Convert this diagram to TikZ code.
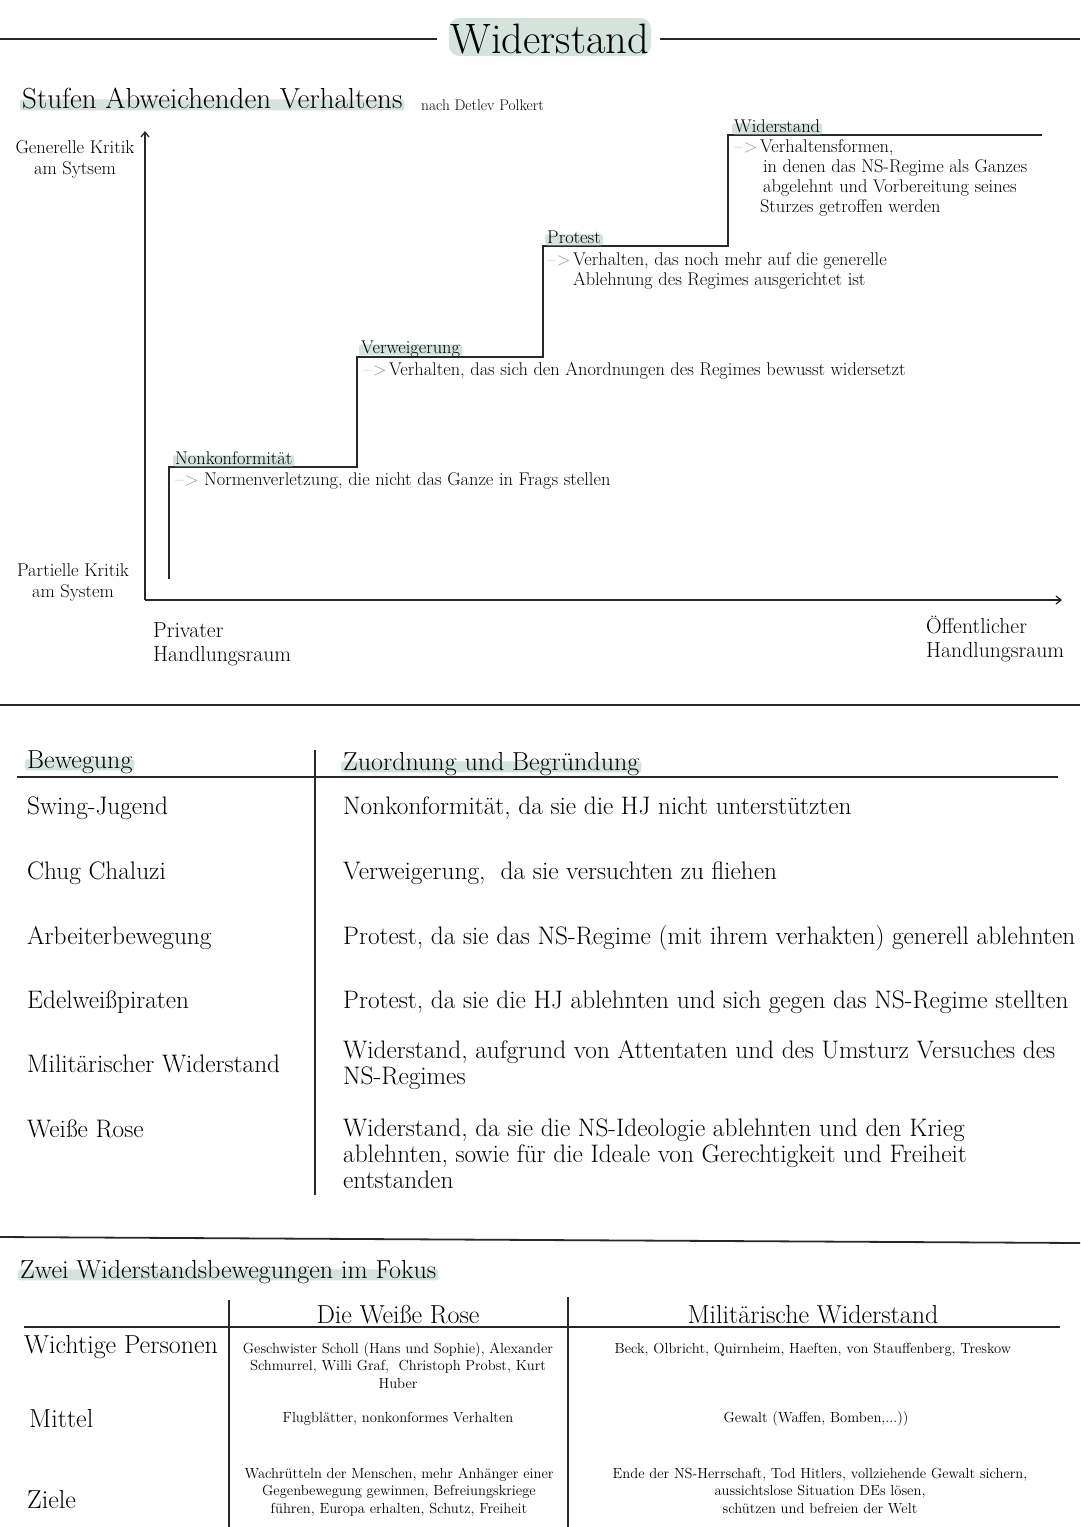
\documentclass[tikz,border=0pt]{standalone}
\usepackage{tikz}
\usepackage{xcolor}
\usetikzlibrary{arrows.meta,positioning,calc}
\definecolor{HighlightGreen}{RGB}{213,227,221}
\definecolor{LineGray}{RGB}{40,40,40}
\definecolor{ArrowGray}{RGB}{150,150,150}
\newcommand{\stepmark}{\textcolor{ArrowGray}{--\kern1pt>}}
\newcommand{\fTitle}{\fontsize{42.5}{46}\selectfont}
\newcommand{\fHead}{\fontsize{29}{32}\selectfont}
\newcommand{\fNote}{\fontsize{15.4}{18}\selectfont}
\newcommand{\fAxis}{\fontsize{18.5}{21}\selectfont}
\newcommand{\fSpace}{\fontsize{21.7}{24}\selectfont}
\newcommand{\fStep}{\fontsize{18.4}{20.1}\selectfont}
\newcommand{\fTab}{\fontsize{25.3}{25.8}\selectfont}
\newcommand{\fTabHead}{\fontsize{26}{28}\selectfont}
\newcommand{\fCell}{\fontsize{14.6}{17.4}\selectfont}

\begin{document}
\begin{tikzpicture}[x=1pt,y=-1pt,
    txt/.style={anchor=base west, inner sep=0pt},
    hilite/.style={anchor=base west, fill=HighlightGreen, inner xsep=2pt, inner ysep=1.5pt,
      text height=0.72em, text depth=0.08em, rounded corners=2pt},
    titlebox/.style={anchor=base, fill=HighlightGreen, inner xsep=2pt, inner ysep=3pt,
      text height=32pt, text depth=0pt, rounded corners=11pt, font=\fTitle},
    sepline/.style={LineGray, line width=1.8pt},
    axis/.style={LineGray, line width=1.3pt, -{Straight Barb[length=5pt,width=8pt]}},
    stairline/.style={LineGray, line width=1.3pt},
    gridline/.style={LineGray, line width=1.4pt},
    stepdesc/.style={anchor=base west, inner sep=0pt, align=left, font=\fStep},
    cell/.style={anchor=base, inner sep=0pt, align=center, font=\fCell}]
  \useasboundingbox (0,0) rectangle (1080,1527);

  % title
  \node[titlebox] (title) at (550,53) {Widerstand};
  \draw[sepline] (0,39) -- ([xshift=-12pt]title.west |- 0,39);
  \draw[sepline] ([xshift=9pt]title.east |- 0,39) -- (1080,39);

  % stufen
  \node[hilite, font=\fHead] (stufen) at (20,108) {Stufen Abweichenden Verhaltens};
  \node[txt, font=\fNote] (polkert) at (421,110) {nach Detlev Polkert};

  \coordinate (origin) at (145,600);
  \coordinate (yTop) at (145,131);
  \coordinate (xEnd) at (1062,600);
  \draw[axis] (origin) -- (yTop);
  \draw[axis] (origin) -- (xEnd);

  % multi-line nodes sit on the baseline of their last line
  \node[anchor=base, inner sep=0pt, align=center, font=\fAxis] (general) at (75,174) {Generelle Kritik\\am Sytsem};
  \node[anchor=base, inner sep=0pt, align=center, font=\fAxis] (partial) at (73,597) {Partielle Kritik\\am System};
  \node[txt, align=left, font=\fSpace] (private) at (153,661) {Privater\\Handlungsraum};
  \node[txt, align=left, font=\fSpace] (public) at (926,657) {\"Offentlicher\\Handlungsraum};

  \draw[stairline] (169,579) -- (169,467) -- (357,467) -- (357,357) -- (543,357)
    -- (543,246) -- (728,246) -- (728,135) -- (1042,135);

  \node[hilite, font=\fStep] (nkLabel) at (173,464) {Nonkonformit\"at};
  \node[txt, font=\fStep] (nkArrow) at (175,485) {\stepmark};
  \node[stepdesc, xshift=5pt] (nkDesc) at (nkArrow.base east) {Normenverletzung, die nicht das Ganze in Frags stellen};

  \node[hilite, font=\fStep] (vwLabel) at (359,353) {Verweigerung};
  \node[txt, font=\fStep] (vwArrow) at (363,375) {\stepmark};
  \node[stepdesc, xshift=2pt] (vwDesc) at (vwArrow.base east) {Verhalten, das sich den Anordnungen des Regimes bewusst widersetzt};

  \node[hilite, font=\fStep] (prLabel) at (545,243) {Protest};
  \node[txt, font=\fStep] (prArrow) at (547,265) {\stepmark};
  \node[stepdesc] (prDesc) at ([xshift=2pt,yshift=-20.1pt]prArrow.base east) {Verhalten, das noch mehr auf die generelle\\Ablehnung des Regimes ausgerichtet ist};

  \node[hilite, font=\fStep] (wdLabel) at (732,132) {Widerstand};
  \node[txt, font=\fStep] (wdArrow) at (734,152) {\stepmark};
  \node[stepdesc] (wdDesc) at ([xshift=2pt,yshift=-60.3pt]wdArrow.base east) {Verhaltensformen,\\\hspace*{3pt}in denen das NS-Regime als Ganzes\\\hspace*{3pt}abgelehnt und Vorbereitung seines\\Sturzes getroffen werden};

  \draw[sepline] (0,705) -- (1080,705);

  % zuordnung
  \node[hilite, font=\fTabHead] (bewegung) at (25,768) {Bewegung};
  \node[hilite, font=\fTabHead] (zuordnung) at (341,770) {Zuordnung und Begr\"undung};
  \draw[gridline] (17,777) -- (1058,777);
  \draw[gridline] (315,750) -- (315,1195);

  \node[txt, font=\fTab] (swing) at (27,814) {Swing-Jugend};
  \node[txt, font=\fTab] (chug) at (27,879) {Chug Chaluzi};
  \node[txt, font=\fTab] (arbeiter) at (27,944) {Arbeiterbewegung};
  \node[txt, font=\fTab] (edelweiss) at (27,1008) {Edelwei\ss piraten};
  \node[txt, font=\fTab] (militaer) at (27,1072) {Milit\"arischer Widerstand};
  \node[txt, font=\fTab] (rose) at (27,1137) {Wei\ss e Rose};

  \node[txt, font=\fTab] (swingWhy) at (343,814) {Nonkonformit\"at, da sie die HJ nicht unterst\"utzten};
  \node[txt, font=\fTab] (chugWhy) at (343,879) {Verweigerung,\ \ da sie versuchten zu fliehen};
  \node[txt, font=\fTab] (arbeiterWhy) at (343,944) {Protest, da sie das NS-Regime (mit ihrem verhakten) generell ablehnten};
  \node[txt, font=\fTab] (edelweissWhy) at (343,1008) {Protest, da sie die HJ ablehnten und sich gegen das NS-Regime stellten};
  \node[txt, align=left, font=\fTab] (militaerWhy) at (343,1084) {Widerstand, aufgrund von Attentaten und des Umsturz Versuches des\\NS-Regimes};
  \node[txt, align=left, font=\fTab] (roseWhy) at (343,1188) {Widerstand, da sie die NS-Ideologie ablehnten und den Krieg\\ablehnten, sowie f\"ur die Ideale von Gerechtigkeit und Freiheit\\entstanden};

  \draw[sepline] (0,1237) -- (1080,1243);

  % fokus
  \node[hilite, font=\fTabHead] (fokus) at (18,1278) {Zwei Widerstandsbewegungen im Fokus};
  \draw[gridline] (229,1300) -- (229,1527);
  \draw[gridline] (568,1297) -- (568,1527);
  \draw[gridline] (24,1327) -- (1060,1327);

  \node[anchor=base, inner sep=0pt, font=\fTabHead] (roseHead) at (398,1323) {Die Wei\ss e Rose};
  \node[anchor=base, inner sep=0pt, font=\fTabHead] (milHead) at (813,1323) {Milit\"arische Widerstand};

  \node[txt, font=\fTabHead] (personen) at (24,1353) {Wichtige Personen};
  \node[txt, font=\fTabHead] (mittel) at (29,1427) {Mittel};
  \node[txt, font=\fTabHead] (ziele) at (27,1508) {Ziele};

  \node[cell] (rosePers) at (398,1388) {Geschwister Scholl (Hans und Sophie), Alexander\\Schmurrel, Willi Graf,\ \ Christoph Probst, Kurt\\Huber};
  \node[cell] (roseMit) at (398,1422) {Flugbl\"atter, nonkonformes Verhalten};
  \node[cell] (roseZiel) at (399,1513) {Wachr\"utteln der Menschen, mehr Anh\"anger einer\\Gegenbewegung gewinnen, Befreiungskriege\\f\"uhren, Europa erhalten, Schutz, Freiheit};
  \node[cell] (milPers) at (813,1353) {Beck, Olbricht, Quirnheim, Haeften, von Stauffenberg, Treskow};
  \node[cell] (milMit) at (816,1422) {Gewalt (Waffen, Bomben,...))};
  \node[cell] (milZiel) at (820,1513) {Ende der NS-Herrschaft, Tod Hitlers, vollziehende Gewalt sichern,\\aussichtslose Situation DEs l\"osen,\\sch\"utzen und befreien der Welt};
\end{tikzpicture}
\end{document}
